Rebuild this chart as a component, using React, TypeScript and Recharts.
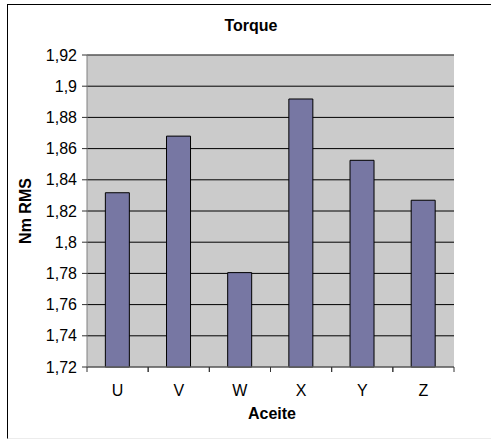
import { BarChart, Bar, XAxis, YAxis, CartesianGrid, ReferenceLine } from 'recharts'

const categories = ['U', 'V', 'W', 'X', 'Y', 'Z']
const torque = [1.8317, 1.868, 1.7805, 1.8918, 1.8525, 1.8269]
const yTicks = [1.72, 1.74, 1.76, 1.78, 1.8, 1.82, 1.84, 1.86, 1.88, 1.9, 1.92]

const data = categories.map((c, i) => ({ name: c, value: torque[i] }))

const FONT = 'Arial, "Liberation Sans", sans-serif'

const fmt = (v: number) => parseFloat(v.toFixed(2)).toString().replace('.', ',')

function CategoryTick(props: any) {
  const { x, y, payload } = props
  const off = payload.offset ?? 0
  return (
    <g>
      <line x1={x - off} x2={x - off} y1={y} y2={y + 5} stroke="#333" />
      <line x1={x + off} x2={x + off} y1={y} y2={y + 5} stroke="#333" />
      <text x={x} y={y + 29} textAnchor="middle" fontSize={16} fontFamily={FONT} fill="#000">
        {payload.value}
      </text>
    </g>
  )
}

export default function App() {
  return (
    <div style={{ position: 'absolute', left: 0, top: 0, width: 491, height: 439, overflow: 'hidden', background: '#fff', fontFamily: FONT }}>
      <div style={{ position: 'absolute', left: 7, top: 4, width: 600, height: 433, borderLeft: '1px solid #000', borderTop: '1px solid #000', borderBottom: '1px solid #ececec' }} />
      <div style={{ position: 'absolute', left: 0, top: 0 }}>
        <BarChart width={491} height={439} data={data} barCategoryGap="30%"
          margin={{ top: 55, right: 37, bottom: 42, left: 27 }}>
          <CartesianGrid vertical={false} stroke="#000" fill="#cbcbcb" />
          <XAxis dataKey="name" tickSize={0} tickMargin={0} height={30}
            axisLine={{ stroke: '#808080' }} tickLine={false} tick={<CategoryTick />} interval={0} />
          <YAxis domain={[1.72, 1.92]} ticks={yTicks} width={60} tickFormatter={fmt}
            tickSize={5} tickMargin={5} axisLine={{ stroke: '#808080' }} tickLine={{ stroke: '#333' }}
            tick={{ fontSize: 16, fontFamily: FONT, fill: '#000' }} interval={0} />
          <YAxis yAxisId="right" orientation="right" width={0} tick={false} tickLine={false}
            axisLine={{ stroke: '#808080' }} />
          <ReferenceLine y={1.92} stroke="#808080" />
          <Bar dataKey="value" fill="#7777a3" stroke="#000" strokeWidth={1} isAnimationActive={false} />
        </BarChart>
      </div>
      <div style={{ position: 'absolute', left: 0, width: 502, top: 16, textAlign: 'center', fontSize: 16, fontWeight: 'bold', lineHeight: '20px' }}>
        Torque
      </div>
      <div style={{ position: 'absolute', left: 0, width: 544, top: 404, textAlign: 'center', fontSize: 16, fontWeight: 'bold', lineHeight: '20px' }}>
        Aceite
      </div>
      <div style={{ position: 'absolute', left: 26, top: 211, width: 0, height: 0 }}>
        <div style={{ position: 'absolute', left: -60, top: -10, width: 120, lineHeight: '20px', textAlign: 'center', fontSize: 16, fontWeight: 'bold', transform: 'rotate(-90deg)', whiteSpace: 'nowrap' }}>
          Nm RMS
        </div>
      </div>
    </div>
  )
}
